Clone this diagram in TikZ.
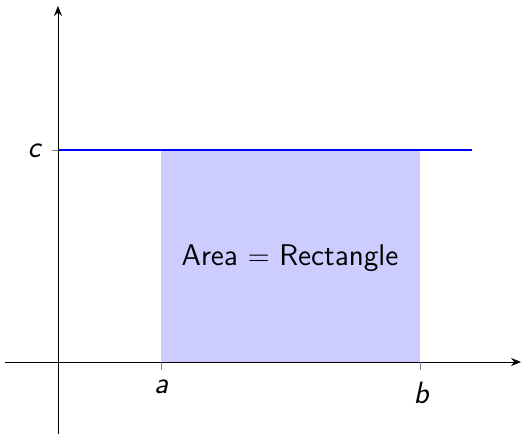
\documentclass[tikz,border=0pt]{standalone}
\usepackage{amsmath}
\usepackage{tikz}
\usetikzlibrary{arrows.meta,positioning}
\definecolor{areablue}{RGB}{204,204,255}
\tikzset{
  axisline/.style={-{Stealth[length=5pt,width=4pt]}, line width=0.5pt, black},
  ticklbl/.style={font=\fontsize{15.5}{18}\selectfont\sffamily\itshape, inner sep=0pt},
  tickmark/.style={gray, line width=0.4pt},
  levelline/.style={blue, line width=1pt},
  areatext/.style={font=\fontsize{15}{18}\selectfont\sffamily, inner sep=0pt},
}
\begin{document}
\begin{tikzpicture}[x=0.5bp, y=-0.5bp]
  \useasboundingbox (0,0) rectangle (522,435);
  % Axis ends
  \coordinate (xs) at (5,362);
  \coordinate (xe) at (521,362);
  \coordinate (ys) at (58,434);
  \coordinate (ye) at (58,6);
  % Rectangle under the line
  \coordinate (ra) at (161,362);
  \coordinate (rb) at (420,150);
  \fill[areablue] (ra) rectangle (rb);
  % Level line y = c
  \coordinate (ls) at (58,150);
  \coordinate (le) at (472,150);
  \draw[levelline] (ls) -- (le);
  % Axes
  \draw[axisline] (xs) -- (xe);
  \draw[axisline] (ys) -- (ye);
  % Ticks
  \foreach \tx/\nm in {161/a, 420/b}{
    \coordinate (t\nm) at (\tx,362);
    \draw[tickmark] (t\nm) -- ++(0,8);
  }
  \draw[tickmark] (ls) -- ++(-6,0);
  % Labels
  \node[ticklbl] (lc) at (34,151) {c};
  \node[ticklbl] (la) at (161,387) {a};
  \node[ticklbl] (lb) at (421,393) {b};
  \node[areatext] (area) at (290,258) {Area $=$ Rectangle};
\end{tikzpicture}
\end{document}
